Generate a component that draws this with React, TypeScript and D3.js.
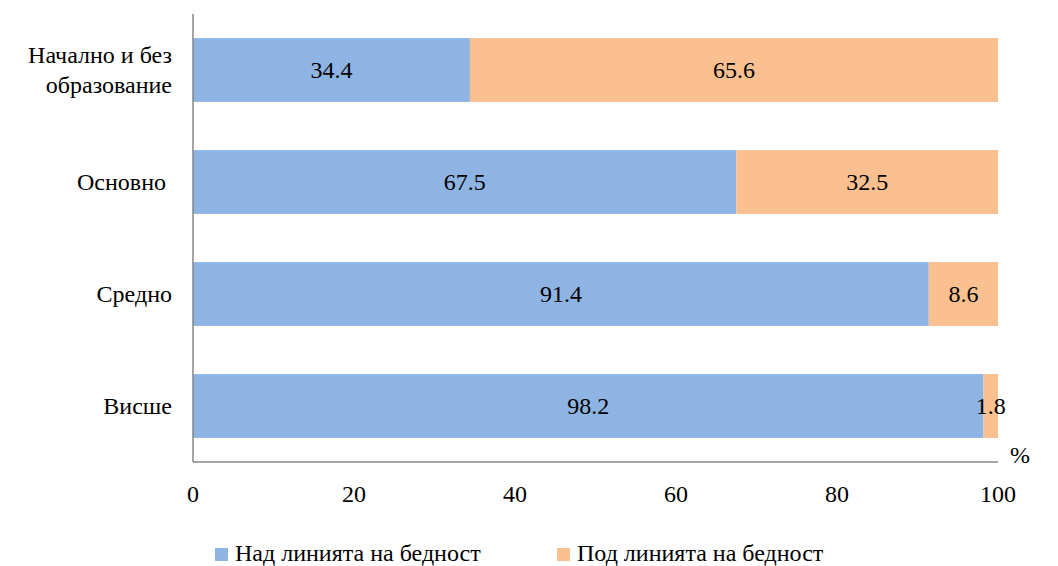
import React from "react";
import * as d3 from "d3";

const categories = ["Начално и без\nобразование", "Основно ", "Средно", "Висше"];
const above = [34.4, 67.5, 91.4, 98.2];
const below = [65.6, 32.5, 8.6, 1.8];
const seriesNames = ["Над линията на бедност", "Под линията на бедност"];
const colors = ["#8EB4E3", "#FAC090"];
const xTicks = [0, 20, 40, 60, 80, 100];

export default function App() {
  const W = 1058, H = 566;
  const left = 193, right = 998, top = 14, bottom = 462;
  const x = d3.scaleLinear().domain([0, 100]).range([left, right]);
  const y = d3.scaleBand().domain(categories).range([top, bottom]).paddingInner(0.43).paddingOuter(0.215);
  const font = "'Times New Roman', 'Liberation Serif', 'DejaVu Serif', serif";
  const fs = 24;
  return (
    <svg width={W} height={H} style={{ position: "absolute", left: 0, top: 0, fontFamily: font }}>
      <rect width={W} height={H} fill="#fff" />
      {categories.map((c, i) => {
        const y0 = y(c)!;
        const bh = y.bandwidth();
        const cy = y0 + bh / 2;
        const lines = c.split("\n");
        return (
          <g key={i}>
            <rect x={x(0)} y={y0} width={x(above[i]) - x(0)} height={bh} fill={colors[0]} />
            <rect x={x(above[i])} y={y0} width={x(above[i] + below[i]) - x(above[i])} height={bh} fill={colors[1]} />
            <text x={(x(0) + x(above[i])) / 2} y={cy} dy="0.35em" textAnchor="middle" fontSize={fs} fill="#000" fontFamily={font}>{above[i].toFixed(1)}</text>
            <text x={(x(above[i]) + x(above[i] + below[i])) / 2} y={cy} dy="0.35em" textAnchor="middle" fontSize={fs} fill="#000" fontFamily={font}>{below[i].toFixed(1)}</text>
            {lines.map((l, j) => (
              <text key={j} x={172} y={cy + (j - (lines.length - 1) / 2) * 30} dy="0.35em" textAnchor="end" fontSize={fs} fill="#000" fontFamily={font} style={{ whiteSpace: "pre" }}>{l}</text>
            ))}
          </g>
        );
      })}
      <line x1={left} x2={left} y1={top} y2={bottom} stroke="#868686" strokeWidth={1.5} />
      <line x1={left} x2={right} y1={bottom} y2={bottom} stroke="#868686" strokeWidth={1.5} />
      {xTicks.map((t) => (
        <text key={t} x={x(t)} y={502} textAnchor="middle" fontSize={fs} fill="#000" fontFamily={font}>{t}</text>
      ))}
      <text x={1020} y={463} textAnchor="middle" fontSize={fs} fill="#000" fontFamily={font}>%</text>
      {seriesNames.map((s, i) => {
        const lx = i === 0 ? 215 : 557;
        return (
          <g key={s}>
            <rect x={lx} y={548} width={13} height={13} fill={colors[i]} />
            <text x={lx + 20} y={561} fontSize={fs} fill="#000" fontFamily={font}>{s}</text>
          </g>
        );
      })}
    </svg>
  );
}
